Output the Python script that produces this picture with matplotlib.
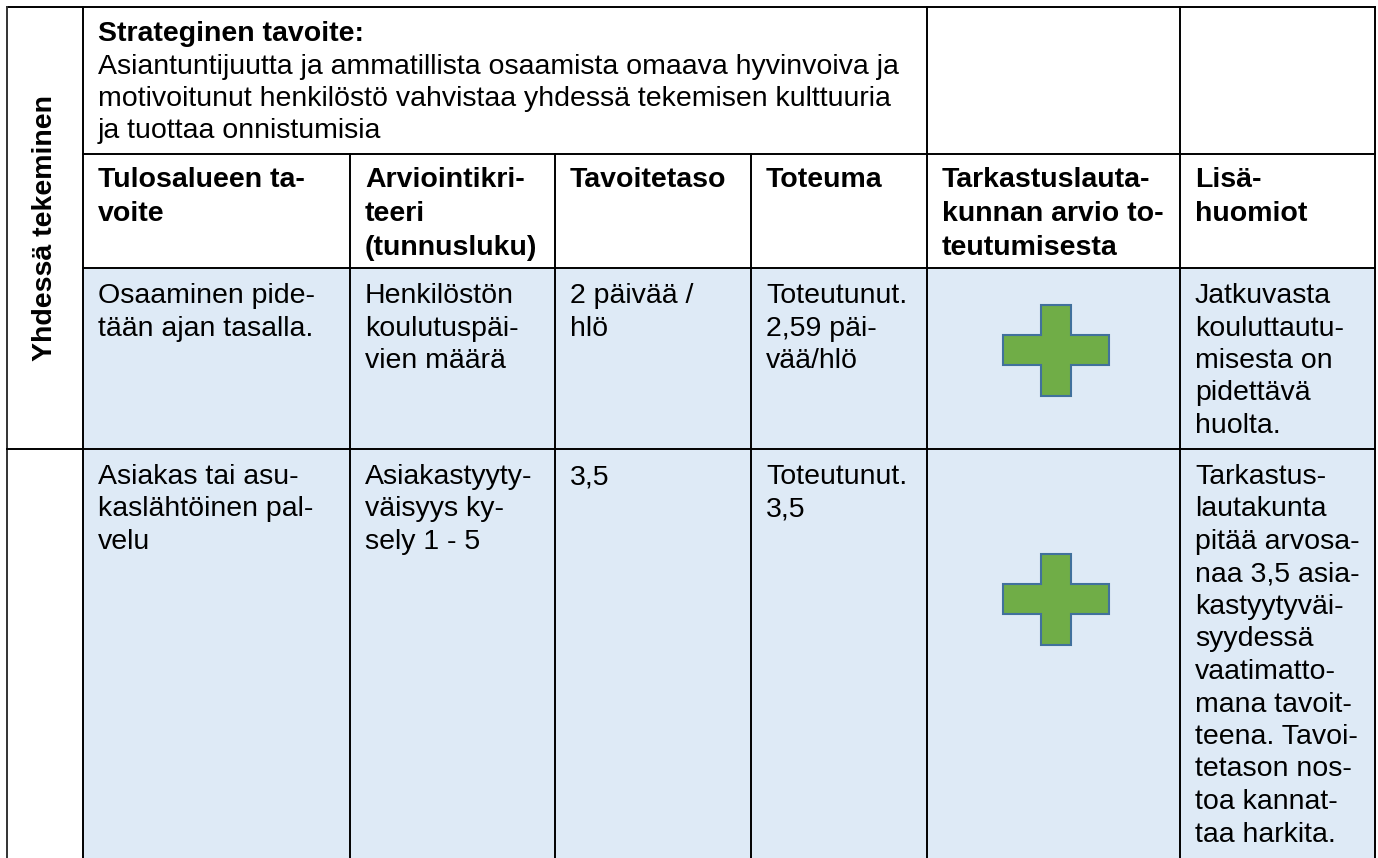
import matplotlib
matplotlib.use("Agg")
import matplotlib.pyplot as plt
from matplotlib.patches import Rectangle, Polygon

plt.rcParams['font.family'] = ['Liberation Sans', 'DejaVu Sans']

# ---- content ----
side_label = "Yhdessä tekeminen"
strategy_title = "Strateginen tavoite:"
strategy_lines = [
    "Asiantuntijuutta ja ammatillista osaamista omaava hyvinvoiva ja",
    "motivoitunut henkilöstö vahvistaa yhdessä tekemisen kulttuuria",
    "ja tuottaa onnistumisia",
]
headers = [
    ["Tulosalueen ta-", "voite"],
    ["Arviointikri-", "teeri", "(tunnusluku)"],
    ["Tavoitetaso"],
    ["Toteuma"],
    ["Tarkastuslauta-", "kunnan arvio to-", "teutumisesta"],
    ["Lisä-", "huomiot"],
]
row1 = [
    ["Osaaminen pide-", "tään ajan tasalla."],
    ["Henkilöstön", "koulutuspäi-", "vien määrä"],
    ["2 päivää /", "hlö"],
    ["Toteutunut.", "2,59 päi-", "vää/hlö"],
    None,
    ["Jatkuvasta", "kouluttautu-", "misesta on", "pidettävä", "huolta."],
]
row2 = [
    ["Asiakas tai asu-", "kaslähtöinen pal-", "velu"],
    ["Asiakastyyty-", "väisyys ky-", "sely 1 - 5"],
    ["3,5"],
    ["Toteutunut.", "3,5"],
    None,
    ["Tarkastus-", "lautakunta", "pitää arvosa-", "naa 3,5 asia-", "kastyytyväi-",
     "syydessä", "vaatimatto-", "mana tavoit-", "teena. Tavoi-", "tetason nos-",
     "toa kannat-", "taa harkita."],
]
assessments = ["+", "+"]  # both rated positive (green plus)

# ---- layout (pixels) ----
W, H = 1378, 858
col_edges = [7, 83, 350, 555, 751, 927, 1180, 1375]
row_edges = [7, 154, 268, 449, 858]
FS = 20.5
PITCH = 32.5
HEAD_PITCH = 34
PAD_X = 15
FILL = "#DEEAF6"
PLUS_FILL = "#70AD47"
PLUS_EDGE = "#41719C"

fig = plt.figure(figsize=(W / 100, H / 100), dpi=100)
ax = fig.add_axes([0, 0, 1, 1])
ax.set_xlim(0, W)
ax.set_ylim(H, 0)
ax.axis("off")

# fills for data rows
for r in (2, 3):
    ax.add_patch(Rectangle((col_edges[1], row_edges[r]), col_edges[-1] - col_edges[1],
                           row_edges[r + 1] - row_edges[r], facecolor=FILL, edgecolor="none", zorder=0))

lw = 1.4
L = col_edges[0]; R = col_edges[-1]
ax.plot([L, R], [row_edges[0]] * 2, color="black", lw=lw)
ax.plot([L, L], [row_edges[0], H], color="#333333", lw=lw)
ax.plot([R, R], [row_edges[0], H], color="black", lw=lw)
ax.plot([col_edges[1], R], [row_edges[1]] * 2, color="black", lw=lw)
ax.plot([col_edges[1], R], [row_edges[2]] * 2, color="black", lw=lw)
ax.plot([L, R], [row_edges[3]] * 2, color="black", lw=lw)
for x in (col_edges[1], col_edges[5], col_edges[6]):
    ax.plot([x, x], [row_edges[0], H], color="black", lw=lw)
for x in (col_edges[2], col_edges[3], col_edges[4]):
    ax.plot([x, x], [row_edges[1], H], color="black", lw=lw)

# side label
ax.text((col_edges[0] + col_edges[1]) / 2, 228, side_label, rotation=90, fontsize=FS,
        fontweight="bold", ha="center", va="center")

# strategy cell
x0 = col_edges[1] + PAD_X
ax.text(x0, 41, strategy_title, fontsize=FS, fontweight="bold", ha="left", va="baseline")
for i, line in enumerate(strategy_lines):
    ax.text(x0, 41 + 32.5 * (i + 1), line, fontsize=FS, ha="left", va="baseline")

def cell_text(ci, first_baseline, lines, bold=False, pitch=PITCH):
    for i, line in enumerate(lines):
        ax.text(col_edges[ci + 1] + PAD_X, first_baseline + pitch * i, line, fontsize=FS,
                fontweight="bold" if bold else "normal", ha="left", va="baseline")

for ci, h in enumerate(headers):
    cell_text(ci, 187, h, bold=True, pitch=HEAD_PITCH)

def plus(cx, cy, w=106, h=91, t=30):
    hw, hh, ht = w / 2, h / 2, t / 2
    pts = [(cx - ht, cy - hh), (cx + ht, cy - hh), (cx + ht, cy - ht), (cx + hw, cy - ht),
           (cx + hw, cy + ht), (cx + ht, cy + ht), (cx + ht, cy + hh), (cx - ht, cy + hh),
           (cx - ht, cy + ht), (cx - hw, cy + ht), (cx - hw, cy - ht), (cx - ht, cy - ht)]
    ax.add_patch(Polygon(pts, closed=True, facecolor=PLUS_FILL, edgecolor=PLUS_EDGE, lw=1.5, zorder=3))

for row, base, plus_y, mark in ((row1, 303, 350, assessments[0]), (row2, 484, 599, assessments[1])):
    for ci, cell in enumerate(row):
        if cell is None:
            if mark == "+":
                plus((col_edges[5] + col_edges[6]) / 2 + 2, plus_y)
            continue
        cell_text(ci, base, cell)

fig.savefig("out.png", dpi=100)
